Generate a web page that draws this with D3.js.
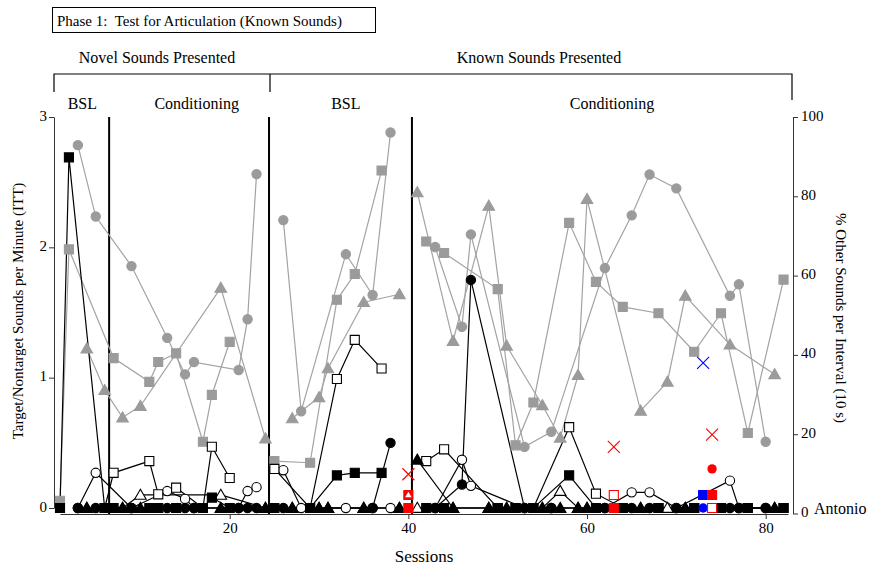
<!DOCTYPE html>
<html>
<head>
<meta charset="utf-8">
<script src="https://cdn.jsdelivr.net/npm/d3@7"></script>
<style>
    body { margin: 0; background: white; }
    text { font-family: "Liberation Serif", "Times New Roman", serif; fill: black; }
</style>
</head>
<body>
<script>
// sessions where each sound type was probed, with the three measures
const circleSessions = [3, 5, 9, 13, 15, 16, 21, 22, 23, 26, 28, 33, 36, 38, 43, 46, 47, 53, 56, 62, 65, 67, 70, 76, 77, 80];
const circleTarget = [0, 0, 0, 0, 0, 0, 0, 0, 0, 0, null, null, 0, 0.5, 0, 0.18, 1.75, 0, 0, 0, 0, 0, 0, 0, 0, 0];
const circleNontarget = [0, 0.27, 0, 0.13, 0.07, 0, 0, 0.13, 0.16, 0.29, 0, 0, 0, 0, 0, 0.37, 0.17, 0, 0, 0, 0.12, 0.12, 0, 0.21, 0, 0];
const circleOther = [92.9, 74.9, 62.4, 44.3, 35.1, 38.2, 36.2, 49, 85.6, 74, 25.8, 65.4, 55.1, 96.1, 67.2, 47.1, 70.4, 16.8, 20.6, 61.9, 75.2, 85.5, 82, 54.9, 57.8, 18.1];

const squareSessions = [1, 2, 6, 7, 11, 12, 14, 17, 18, 20, 25, 29, 32, 34, 37, 42, 44, 50, 52, 54, 58, 61, 64, 68, 72, 75, 78, 82];
const squareTarget = [0, 2.69, 0, 0, 0, 0, 0, 0, 0.08, 0, 0, 0, 0.25, 0.27, 0.27, 0, 0, 0, 0, 0, 0.25, 0, 0, 0, 0, 0, 0, 0];
const squareNontarget = [null, null, 0, 0.27, 0.36, 0.105, 0.156, 0, 0.47, 0.23, 0.3, 0, 0.99, 1.29, 1.07, 0.36, 0.45, 0, 0, 0, 0.62, 0.11, 0, 0, 0, 0, 0, 0];
const squareOther = [3.2, 66.6, null, 39.2, 33.2, 38.2, 40.4, 18.1, 29.9, 43.3, 13.2, 12.8, 53.9, 60.4, 86.5, 68.6, 65.7, 56.6, 17.2, 28, 73.3, 58.4, 52.1, 50.5, 40.8, 50.5, 20.3, 59];

const triangleSessions = [4, 6, 8, 10, 19, 24, 27, 30, 31, 35, 39, 41, 45, 49, 51, 55, 57, 59, 60, 66, 69, 71, 76, 81];
const triangleTarget = [0, null, 0, 0, 0, 0, 0, 0, 0, 0, 0, 0.37, 0, 0, 0, 0, 0, 0, 0, 0, null, 0, null, 0];
const triangleNontarget = [0, null, 0, 0.1, 0.1, 0, 0, 0, 0, 0, 0, 0, 0, 0, 0, 0, 0.13, 0, 0, 0, 0, 0, null, 0];
const triangleOther = [41.6, 31.1, 24.2, 27.1, 56.9, 18.9, 24, 29.3, 36.6, 53.3, 55.3, 81, 43.5, 77.6, 42.3, 27.3, 19.1, 34.9, 79.3, 25.9, 33.2, 54.9, 42.6, 35.1];

// novel sound probes (red / blue)
const probeSessions = [40, 40, 40, 63, 63, 63, 73, 73, 73, 74, 74, 74, 74];
const probeValues = [0, 0.1, 9.9, 0, 0.1, 16.8, 0, 0.1, 38, 0, 0.1, 19.9, 0.3];
const probeKinds = ["square", "squareTri", "x", "square", "openSquare", "x", "circle", "square", "x", "openSquare", "square", "x", "circle"];
const probeColors = ["red", "red", "red", "red", "red", "red", "blue", "blue", "blue", "red", "red", "red", "red"];

const phaseChanges = [6.5, 24.4, 40.4];
const phaseLabels = ["BSL", "Conditioning", "BSL", "Conditioning"];
const leftTicks = [0, 1, 2, 3];
const rightTicks = [0, 20, 40, 60, 80, 100];
const sessionTicks = [20, 40, 60, 80];

const grayLine = "#a3a3a3";
const grayFill = "#9b9b9b";

let svg = d3.select("body").append("svg")
    .attr("width", 869)
    .attr("height", 567);

let x = d3.scaleLinear().domain([1, 82.5]).range([60, 788]);
let yLeft = d3.scaleLinear().domain([0, 3]).range([508, 117]);
let yRight = d3.scaleLinear().domain([0, 100]).range([513.5, 117]);

function segmentOf(s) {
    if (s < phaseChanges[1]) return 0;
    if (s < phaseChanges[2]) return 1;
    return 2;
}

function makePoints(sessions, values) {
    let pts = [];
    sessions.forEach((s, i) => {
        if (values[i] !== null) pts.push({ s: s, v: values[i] });
    });
    return pts;
}

function drawLines(pts, scale, color) {
    let line = d3.line().x(d => x(d.s)).y(d => scale(d.v));
    let groups = d3.groups(pts, d => segmentOf(d.s));
    groups.forEach(g => {
        svgLines.append("path")
            .attr("d", line(g[1]))
            .attr("fill", "none")
            .attr("stroke", color)
            .attr("stroke-width", 1.2);
    });
}

const symbolOf = { circle: d3.symbolCircle, square: d3.symbolSquare, triangle: d3.symbolTriangle };
const sizeOf = { circle: 68, square: 82, triangle: 58 };

function drawMarkers(layer, pts, scale, shape, fill, stroke) {
    layer.selectAll(null)
        .data(pts)
        .enter()
        .append("path")
        .attr("d", d3.symbol().type(symbolOf[shape]).size(sizeOf[shape]))
        .attr("transform", d => "translate(" + x(d.s) + "," + (scale(d.v) + (shape === "triangle" ? 1 : 0)) + ")")
        .attr("fill", fill)
        .attr("stroke", stroke)
        .attr("stroke-width", 1.1);
}

// title box
svg.append("rect")
    .attr("x", 52.5).attr("y", 7.5)
    .attr("width", 323).attr("height", 25)
    .attr("fill", "none").attr("stroke", "black");

svg.append("text")
    .attr("x", 57).attr("y", 26)
    .attr("font-size", 15)
    .style("white-space", "pre")
    .text("Phase 1:  Test for Articulation (Known Sounds)");

// brackets
svg.append("path")
    .attr("d", "M54,92 V74 H792 V100 M270,74 V92")
    .attr("fill", "none").attr("stroke", "black").attr("stroke-width", 1.2);

svg.append("text")
    .attr("x", 157).attr("y", 63)
    .attr("font-size", 16).attr("text-anchor", "middle")
    .text("Novel Sounds Presented");

svg.append("text")
    .attr("x", 539).attr("y", 63)
    .attr("font-size", 16).attr("text-anchor", "middle")
    .text("Known Sounds Presented");

const labelSessions = [3.5, 16.3, 33, 62.8];
phaseLabels.forEach((t, i) => {
    svg.append("text")
        .attr("x", x(labelSessions[i])).attr("y", 109)
        .attr("font-size", 16).attr("text-anchor", "middle")
        .text(t);
});

// axes
let leftAxis = d3.axisLeft(yLeft).tickValues(leftTicks).tickFormat(d3.format("d"))
    .tickSize(5).tickSizeOuter(0).tickPadding(2);
let gl = svg.append("g").attr("transform", "translate(54,0)").call(leftAxis);

let rightAxis = d3.axisRight(yRight).tickValues(rightTicks).tickFormat(d3.format("d"))
    .tickSize(5).tickSizeOuter(0).tickPadding(3);
let gr = svg.append("g").attr("transform", "translate(793,0)").call(rightAxis);

let bottomAxis = d3.axisBottom(x).tickValues(sessionTicks).tickFormat(d3.format("d"))
    .tickSize(5).tickSizeOuter(0).tickPadding(3);
let gb = svg.append("g").attr("transform", "translate(0,514)").call(bottomAxis);

[gl, gr, gb].forEach(g => {
    g.selectAll("text")
        .attr("font-size", 15)
        .attr("font-family", "Liberation Serif")
        .attr("fill", "#222");
    g.selectAll("path, line").attr("stroke", "#333");
});
gl.selectAll(".tick text").attr("dy", "0.2em");
gr.selectAll(".tick text").attr("dy", "0.2em");

svg.append("text")
    .attr("transform", "translate(23,311) rotate(-90)")
    .attr("font-size", 15).attr("text-anchor", "middle")
    .text("Target/Nontarget Sounds per Minute (ITT)");

svg.append("text")
    .attr("transform", "translate(836,318) rotate(90)")
    .attr("font-size", 15).attr("text-anchor", "middle")
    .text("% Other Sounds per Interval (10 s)");

svg.append("text")
    .attr("x", 424).attr("y", 562)
    .attr("font-size", 17).attr("text-anchor", "middle")
    .text("Sessions");

svg.append("text")
    .attr("x", 814).attr("y", 514)
    .attr("font-size", 16)
    .text("Antonio");

// phase change lines
phaseChanges.forEach(p => {
    svg.append("line")
        .attr("x1", x(p)).attr("x2", x(p))
        .attr("y1", 117).attr("y2", 514)
        .attr("stroke", "black").attr("stroke-width", 2);
});

let svgLines = svg.append("g");
let grayMarks = svg.append("g");
let openMarks = svg.append("g");
let blackMarks = svg.append("g");
let probeMarks = svg.append("g");

const shapes = [
    { shape: "circle", sessions: circleSessions, target: circleTarget, nontarget: circleNontarget, other: circleOther },
    { shape: "square", sessions: squareSessions, target: squareTarget, nontarget: squareNontarget, other: squareOther },
    { shape: "triangle", sessions: triangleSessions, target: triangleTarget, nontarget: triangleNontarget, other: triangleOther }
];

shapes.forEach(d => {
    let pts = makePoints(d.sessions, d.other);
    drawLines(pts, yRight, grayLine);
    drawMarkers(grayMarks, pts, yRight, d.shape, grayFill, grayFill);
});

shapes.forEach(d => {
    let openPts = makePoints(d.sessions, d.nontarget);
    let blackPts = makePoints(d.sessions, d.target);
    drawLines(openPts, yLeft, "black");
    drawLines(blackPts, yLeft, "black");
    drawMarkers(openMarks, openPts, yLeft, d.shape, "white", "black");
    drawMarkers(blackMarks, blackPts, yLeft, d.shape, "black", "black");
});

// probes
probeSessions.forEach((s, i) => {
    let kind = probeKinds[i];
    let c = probeColors[i];
    let px = x(s);
    if (kind === "x") {
        let py = yRight(probeValues[i]);
        let r = 6;
        probeMarks.append("path")
            .attr("d", "M" + (px - r) + "," + (py - r) + "L" + (px + r) + "," + (py + r) +
                "M" + (px - r) + "," + (py + r) + "L" + (px + r) + "," + (py - r))
            .attr("stroke", c).attr("stroke-width", 1.1).attr("fill", "none");
        return;
    }
    let py = yLeft(probeValues[i]);
    if (kind === "circle") {
        probeMarks.append("path")
            .attr("d", d3.symbol().type(d3.symbolCircle).size(68))
            .attr("transform", "translate(" + px + "," + py + ")")
            .attr("fill", c);
    } else {
        probeMarks.append("path")
            .attr("d", d3.symbol().type(d3.symbolSquare).size(82))
            .attr("transform", "translate(" + px + "," + py + ")")
            .attr("fill", kind === "openSquare" ? "white" : c)
            .attr("stroke", c).attr("stroke-width", 1.1);
        if (kind === "squareTri") {
            probeMarks.append("path")
                .attr("d", d3.symbol().type(d3.symbolTriangle).size(18))
                .attr("transform", "translate(" + px + "," + (py + 0.5) + ")")
                .attr("fill", "white");
        }
    }
});
</script>
</body>
</html>
